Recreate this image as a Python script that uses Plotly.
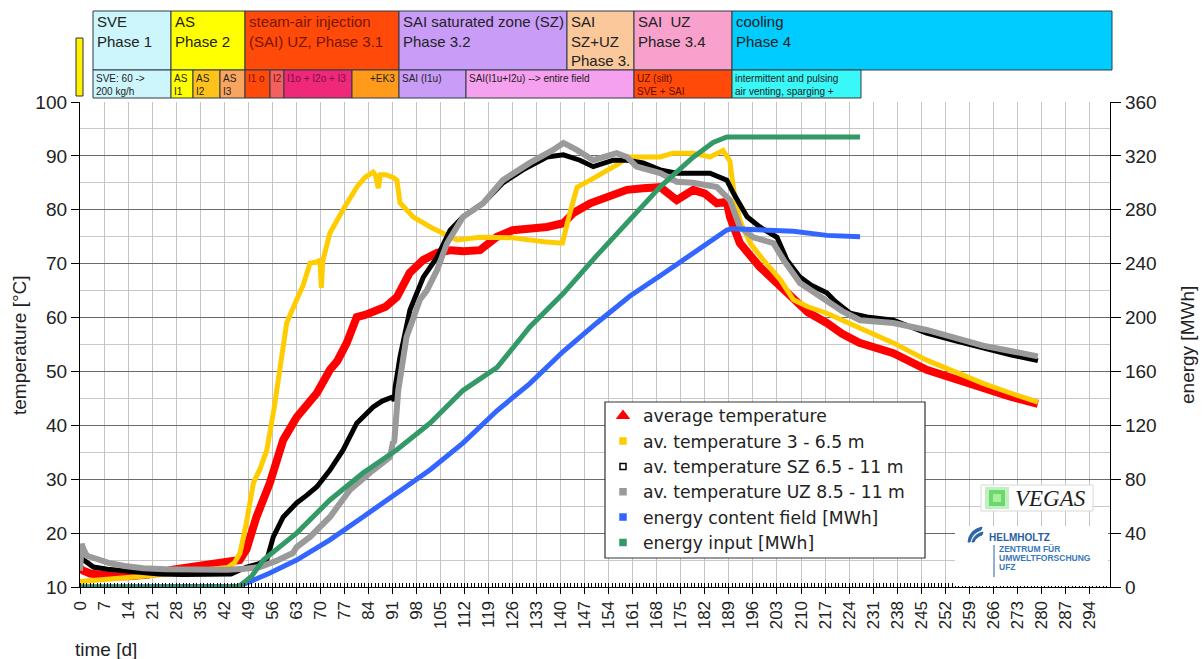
import plotly.graph_objects as go

# ---------------- data (time in days) ----------------
red_days = [0, 1, 3, 6, 10, 14, 20, 27, 35, 43, 46.5, 48.5, 51.4, 55.3, 59.2, 63.1, 66, 69, 72.8, 75,
            77.7, 80.6, 83, 86.5, 89, 92.3, 96, 100, 104, 108, 111.6, 116.5, 121.5, 126, 131, 136,
            140.8, 143.7, 148.6, 154, 159.3, 164, 169, 173.8, 178.6, 182, 185.5, 188.4, 189.3, 192.2,
            198, 203, 207.8, 212, 217.5, 222, 227, 232, 236.9, 246.6, 255, 263, 271, 279]
red_vals = [13.5, 13.0, 12.5, 12.2, 12.0, 12.0, 12.3, 13.2, 13.8, 14.5, 15.0, 17, 23, 29.3, 37.3, 41.5,
            44, 46, 50.3, 52, 55.3, 60.1, 60.5, 61.4, 62, 63.8, 68.3, 70.7, 72, 72.5, 72.3, 72.5, 75,
            76.2, 76.5, 76.8, 77.5, 79.4, 81.2, 82.5, 83.7, 84.0, 84.2, 81.8, 83.7, 83, 81.2, 81.5,
            78.7, 73.8, 69.4, 66.4, 63.3, 61, 59, 57, 55.3, 54.3, 53.4, 50.3, 48.5, 46.8, 45.3, 44]

yel_days = [0, 3, 8, 16.6, 24, 31, 38, 43, 45, 46.6, 48.5, 50.5, 52.5, 54.4, 56.5, 58.3, 60.2, 63.1,
            65, 67, 69, 69.9, 70.3, 70.7, 72.8, 76.6, 80.6, 83, 85.4, 86, 86.9, 87.5, 89, 91.2, 92.3,
            93.2, 95, 97, 102, 105.7, 109.8, 116.5, 126, 136, 140.5, 142.7, 144.8, 148.6, 153.5,
            157.3, 159.3, 164, 169, 172.7, 178.6, 183.5, 187.3, 189.3, 190.3, 192.2, 195.2, 199, 204,
            207.8, 212, 217.5, 222, 227, 232, 236.9, 246.6, 255, 263, 271, 279]
yel_vals = [11.0, 11.2, 11.5, 11.9, 12.3, 12.8, 13.2, 13.6, 14.5, 16.3, 22, 29.3, 32, 35.4, 43, 50.8,
            59, 63.3, 66, 70.1, 70.3, 70.7, 65.5, 70.5, 75.7, 80, 84.2, 86, 87, 86.5, 84, 86.5, 86.5,
            86, 85.5, 81.3, 80, 78.7, 76.8, 75.7, 74.4, 74.9, 74.8, 74, 73.8, 79.4, 84.2, 85.5, 87.4,
            88.7, 89.8, 89.8, 89.8, 90.5, 90.5, 89.8, 91, 89, 84, 78, 73.8, 70.7, 67, 63.3, 62, 60.8,
            59.5, 58, 56.8, 55.3, 52.1, 49.8, 47.8, 46, 44.3]

sz_days = [0, 1, 3.9, 8, 13.6, 18, 23, 30, 38, 44, 48.5, 52, 54.4, 56.3, 59.2, 63.1, 66, 69, 72.8,
           76.6, 80.6, 83, 85.4, 88, 91.2, 91.5, 91.8, 93.2, 96.1, 100, 104, 107.8, 111.6, 117.4,
           123.2, 129, 136, 140.8, 145.6, 149.5, 155.3, 159.3, 164, 169, 173.8, 178.6, 183.5, 188.4,
           190.3, 194.3, 198, 203, 205.9, 209.7, 213, 217.5, 220, 224.3, 229.2, 236.9, 246.6, 255,
           263, 271, 279]
sz_vals = [15.5, 15.0, 13.7, 13.3, 12.9, 12.6, 12.4, 12.3, 12.3, 12.4, 13.7, 14.3, 15, 19.3, 23, 25.6,
           27, 28.6, 31.7, 35.4, 40.4, 42, 43.4, 44.5, 45.3, 44.5, 47.1, 52.7, 61.4, 67.5, 71.2, 76.2,
           78.7, 81.2, 85, 87.4, 89.8, 90.2, 89.2, 88, 89.2, 89.2, 88.7, 87.4, 86.8, 86.8, 86.8, 85.5,
           83.1, 78.7, 76.8, 74.9, 70.7, 67.5, 66, 64.6, 63, 60.8, 60.1, 59.5, 57.1, 55.7, 54.3,
           53.1, 52]

uz_days = [0, 0.5, 1, 2, 5, 8.7, 13, 18.4, 25, 33, 42.8, 48, 52.4, 57, 62, 63.1, 67, 72.8, 78.6,
           84.5, 90.3, 91.2, 91.5, 92.7, 95.1, 99, 101, 104, 106.9, 111.6, 117.4, 123.2, 131, 137.8,
           140.8, 144.7, 149.5, 156.3, 159.3, 162.1, 169, 173.8, 178.6, 185.5, 189.3, 192.2, 196.1,
           202, 204.9, 209.7, 217.5, 222, 227.2, 236.9, 246.6, 255, 263, 271, 279]
uz_vals = [13, 18, 17, 15.8, 15.2, 14.4, 13.9, 13.5, 13.3, 13.2, 13.2, 13.4, 13.7, 14.8, 16.3, 17.4,
           19.3, 23, 28, 31.2, 34.1, 37, 36.7, 46.5, 56.4, 63.3, 65, 68.8, 73.8, 78.7, 81.2, 85.5,
           88.7, 91.1, 92.4, 91.1, 89.2, 90.5, 89.8, 88, 86.8, 85.2, 85, 84.2, 81.8, 76.8, 74.9, 73.8,
           70.7, 66.4, 63.3, 61.2, 59.5, 59, 57.7, 56.2, 54.8, 53.8, 52.8]

econt_days = [0, 20, 40, 46, 49.5, 55, 63.1, 72.8, 82.4, 92.2, 102, 111.6, 121.5, 131, 140.8, 150.5,
              160.2, 169, 178.6, 185.5, 188.4, 190, 198, 207.8, 217.5, 227.2]
econt_vals = [0, 0, 0, 0.5, 4, 10, 20, 35, 52, 70, 87, 107, 131, 151, 175, 196, 216, 231, 248, 260,
              265, 266, 265, 264, 261, 260]

einp_days = [0, 20, 40, 45, 46.6, 50, 53.4, 58, 63.1, 72.8, 82.4, 92.2, 102, 111.6, 121.5, 131,
             140.8, 150.5, 159.3, 169, 178.6, 184.4, 188.4, 200, 215, 227.2]
einp_vals = [0, 0, 0, 0, 1, 8, 20, 30, 40, 64.6, 84.6, 101.7, 121.7, 146, 163, 193, 218, 246, 270,
             297, 319, 330, 334, 334, 334, 334]

series_names = ["average temperature", "av. temperature 3 - 6.5 m", "av. temperature SZ 6.5 - 11 m",
                "av. temperature UZ 8.5 - 11 m", "energy content field [MWh]", "energy input [MWh]"]

# ---------------- page geometry helpers (pixels -> paper) ----------------
W, H = 1203, 659
L, R, T, B = 80, 1110, 102, 587


def px(x):
    return (x - L) / (R - L)


def py(y):
    return (B - y) / (B - T)


FONT = "Liberation Sans, Arial, sans-serif"
TXT = "#222222"

fig = go.Figure()

line_specs = [
    (red_days, red_vals, "#FF0000", 8, "y"),
    (yel_days, yel_vals, "#FFCC00", 5, "y"),
    (sz_days, sz_vals, "#000000", 5, "y"),
    (uz_days, uz_vals, "#9A9A9A", 6, "y"),
    (econt_days, econt_vals, "#3366FF", 5, "y2"),
    (einp_days, einp_vals, "#339966", 5, "y2"),
]
for (xd, yd, col, w, ax), name in zip(line_specs, series_names):
    fig.add_trace(go.Scatter(x=xd, y=yd, mode="lines", line=dict(color=col, width=w),
                             yaxis=ax, showlegend=False, name=name, hoverinfo="skip"))

# legend entries with marker symbols
legend_marks = [
    ("triangle-up", "#FF0000", 10),
    ("square", "#FFCC00", 6),
    ("square-open", "#000000", 6),
    ("square", "#9A9A9A", 6),
    ("square", "#3366FF", 6),
    ("square", "#339966", 6),
]
for (sym, col, sz), name in zip(legend_marks, series_names):
    fig.add_trace(go.Scatter(x=[None], y=[None], mode="markers", name=name,
                             marker=dict(symbol=sym, color=col, size=sz,
                                         line=dict(color=col, width=1.5))))

shapes = []
annots = []


def rect(x0, x1, y0, y1, fill, line="#2E3B44", lw=1, layer="above"):
    shapes.append(dict(type="rect", xref="paper", yref="paper", x0=px(x0), x1=px(x1),
                       y0=py(y1), y1=py(y0), fillcolor=fill, layer=layer,
                       line=dict(color=line, width=lw)))


def text(x, y, s, size, color=TXT, xanchor="left", yanchor="top", **kw):
    annots.append(dict(xref="paper", yref="paper", x=px(x), y=py(y), text=s, showarrow=False,
                       xanchor=xanchor, yanchor=yanchor, align="left",
                       font=dict(family=kw.pop("family", FONT), size=size, color=color), **kw))


# ---------------- phase banner ----------------
top_boxes = [
    (93, 171, "#CDF5FC", "SVE<br>Phase 1", TXT),
    (171, 245, "#FFFF00", "AS<br>Phase 2", TXT),
    (245, 399, "#FF4A0A", "steam-air injection<br>(SAI) UZ, Phase 3.1", "#7A1600"),
    (399, 567, "#C99CF7", "SAI saturated zone (SZ)<br>Phase 3.2", TXT),
    (567, 634, "#FAC89A", "SAI<br>SZ+UZ<br>Phase 3.", TXT),
    (634, 732, "#F7A1CC", "SAI  UZ<br>Phase 3.4", TXT),
    (732, 1112, "#00CCFF", "cooling<br>Phase 4", TXT),
]
for x0, x1, fill, s, col in top_boxes:
    rect(x0, x1, 11, 70, fill)
    text(x0 + 2, 11, s, 15, col)

bottom_boxes = [
    (93, 171, "#CDF5FC", "SVE: 60 -><br>200 kg/h", TXT),
    (171, 193, "#FFFF00", "AS<br>I1", TXT),
    (193, 220, "#FFC21A", "AS<br>I2", TXT),
    (220, 245, "#F9A560", "AS<br>I3", TXT),
    (245, 270, "#FF4A0A", "I1 o", "#7A1600"),
    (270, 284, "#F26060", "I2", "#7A1600"),
    (284, 352, "#F0287A", "I1o + I2o + I3", "#7A1040"),
    (352, 399, "#FF9A1A", None, TXT),
    (399, 466, "#C99CF7", "SAI (I1u)", TXT),
    (466, 634, "#F6A0F0", "SAI(I1u+I2u) --> entire field", TXT),
    (634, 732, "#FF4A0A", "UZ (silt)<br>SVE + SAI", "#5A1000"),
    (732, 861, "#38F8F8", "intermittent and pulsing<br>air venting, sparging +", TXT),
]
for x0, x1, fill, s, col in bottom_boxes:
    rect(x0, x1, 70, 98, fill)
    if s:
        text(x0 + 1, 71, s, 10, col)
text(397, 71, "+EK3", 10, TXT, xanchor="right")

# small marker bar left of the banner
rect(76, 83, 38, 96, "#FFF200", line="#333333", lw=1)

# ---------------- legend frame ----------------
rect(605, 925, 402, 558, "white", line="#333333", lw=1.2)

# ---------------- logos ----------------
rect(955, 1108, 526, 586, "white", line="white", lw=0)
rect(981, 1093, 485, 511, "white", line="#D8D8D8", lw=1)
rect(985, 1009, 487, 509, "rgba(120,220,120,0.45)", line="rgba(0,0,0,0)", lw=0)
rect(989, 1005, 490, 506, "rgba(80,210,80,0.75)", line="rgba(0,0,0,0)", lw=0)
rect(993, 1001, 494, 502, "#A8F0A0", line="rgba(0,0,0,0)", lw=0)
text(1013, 498, "<i>VEGAS</i>", 23, "#1E1E1E", yanchor="middle",
     family="Liberation Serif, Times New Roman, serif")


def p(x, y):
    return f"{px(x):.5f},{py(y):.5f}"


shapes.append(dict(type="path", xref="paper", yref="paper", layer="above",
                   path=f"M {p(968, 542)} Q {p(969, 530)} {p(982, 527)} L {p(981, 530)} "
                        f"Q {p(972, 533)} {p(970, 542)} Z",
                   fillcolor="#2C66A8", line=dict(color="#2C66A8", width=1)))
shapes.append(dict(type="path", xref="paper", yref="paper", layer="above",
                   path=f"M {p(972, 542)} Q {p(974, 534)} {p(983, 532)} L {p(982, 535)} "
                        f"Q {p(976, 537)} {p(974, 542)} Z",
                   fillcolor="#2C66A8", line=dict(color="#2C66A8", width=1)))
text(987, 537, "<b>HELMHOLTZ</b>", 10, "#2A5F9E", yanchor="middle")
shapes.append(dict(type="line", xref="paper", yref="paper", layer="above",
                   x0=px(994), x1=px(994), y0=py(545), y1=py(577),
                   line=dict(color="#2A5F9E", width=1)))
text(997, 549, "<b>ZENTRUM FÜR</b>", 8.5, "#3A78B8", yanchor="middle")
text(997, 558, "<b>UMWELTFORSCHUNG</b>", 8.5, "#3A78B8", yanchor="middle")
text(997, 567, "<b>UFZ</b>", 8.5, "#3A78B8", yanchor="middle")

# ---------------- axis titles ----------------
text(73, 649, "time [d]", 19, TXT, yanchor="middle")
text(19, 345, "temperature [°C]", 19, TXT, xanchor="center", yanchor="middle", textangle=-90)
text(1187, 345, "energy [MWh]", 19, TXT, xanchor="center", yanchor="middle", textangle=-90)

fig.update_layout(
    width=W, height=H,
    margin=dict(l=L, r=W - R, t=T, b=H - B, pad=0),
    paper_bgcolor="white", plot_bgcolor="white",
    font=dict(family=FONT, color=TXT),
    shapes=shapes, annotations=annots,
    showlegend=True,
    legend=dict(x=px(603), y=py(398), xanchor="left", yanchor="top",
                bgcolor="rgba(0,0,0,0)", borderwidth=0,
                font=dict(family="DejaVu Sans, Liberation Sans, sans-serif", size=17.2, color=TXT),
                itemwidth=30),
    xaxis=dict(range=[0, 300], tick0=0, dtick=7, tickangle=-90,
               showgrid=True, gridcolor="#C4C4C4", gridwidth=1, zeroline=False,
               showline=True, linecolor="#000000", linewidth=1.3,
               ticks="outside", ticklen=6, tickcolor="#000000",
               tickfont=dict(size=17, color=TXT),
               minor=dict(dtick=1, ticks="inside", ticklen=4, tickcolor="#000000", showgrid=False)),
    yaxis=dict(range=[10, 100], dtick=10, tick0=10,
               showgrid=True, gridcolor="#6A6A6A", gridwidth=1.3, zeroline=False,
               showline=True, linecolor="#000000", linewidth=1.3,
               ticks="outside", ticklen=8, tickcolor="#000000",
               tickfont=dict(size=19, color=TXT),
               minor=dict(dtick=5, showgrid=True, gridcolor="#C8C8C8", gridwidth=1)),
    yaxis2=dict(range=[0, 360], dtick=40, tick0=0, overlaying="y", side="right",
                showgrid=False, zeroline=False,
                showline=True, linecolor="#000000", linewidth=1.3,
                ticks="outside", ticklen=10, tickcolor="#000000",
                tickfont=dict(size=19, color=TXT)),
)

fig.write_html("out.html")
